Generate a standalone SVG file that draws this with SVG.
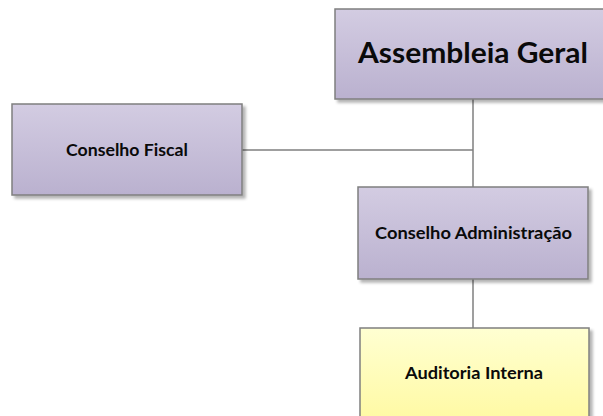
<svg xmlns="http://www.w3.org/2000/svg" width="603" height="416" viewBox="0 0 603 416">
<defs>
<linearGradient id="lav" x1="0" y1="0" x2="0" y2="1">
<stop offset="0" stop-color="#d3cce2"/>
<stop offset="1" stop-color="#bab1cf"/>
</linearGradient>
<linearGradient id="yel" x1="0" y1="0" x2="0" y2="1">
<stop offset="0" stop-color="#ffffd2"/>
<stop offset="1" stop-color="#fff9a0"/>
</linearGradient>
<filter id="sh" x="-10%" y="-10%" width="120%" height="130%">
<feGaussianBlur in="SourceAlpha" stdDeviation="1.5"/>
<feOffset dx="3" dy="3" result="b"/>
<feComponentTransfer><feFuncA type="linear" slope="0.3"/></feComponentTransfer>
<feMerge><feMergeNode/><feMergeNode in="SourceGraphic"/></feMerge>
</filter>
</defs>
<style>
.box{stroke:#7f7f7f;stroke-width:1.5;filter:url(#sh)}
.t{font-family:Lato,"Open Sans",sans-serif;font-weight:bold;fill:#0a0a0a;text-anchor:middle}
.c{stroke:#7f7f7f;stroke-width:1.5;fill:none}
</style>
<rect width="603" height="416" fill="#fff"/>
<g id="connectors">
<line class="c" x1="473" y1="99" x2="473" y2="187"/>
<line class="c" x1="242" y1="150" x2="473" y2="150"/>
<line class="c" x1="473" y1="279" x2="473" y2="328"/>
</g>
<g id="assembleia">
<rect class="box" x="335" y="9" width="276" height="90" fill="url(#lav)"/>
<text class="t" x="473" y="63" font-size="29" textLength="230" lengthAdjust="spacingAndGlyphs">Assembleia Geral</text>
</g>
<g id="fiscal">
<rect class="box" x="12" y="104" width="230" height="91" fill="url(#lav)"/>
<text class="t" x="127" y="155.5" font-size="17" textLength="122" lengthAdjust="spacingAndGlyphs">Conselho Fiscal</text>
</g>
<g id="administracao">
<rect class="box" x="358" y="187" width="230" height="92" fill="url(#lav)"/>
<text class="t" x="473.5" y="238.5" font-size="17" textLength="197" lengthAdjust="spacingAndGlyphs">Conselho Administração</text>
</g>
<g id="auditoria">
<rect class="box" x="360" y="328" width="229" height="100" fill="url(#yel)"/>
<text class="t" x="474" y="378.5" font-size="17" textLength="138" lengthAdjust="spacingAndGlyphs">Auditoria Interna</text>
</g>
</svg>
